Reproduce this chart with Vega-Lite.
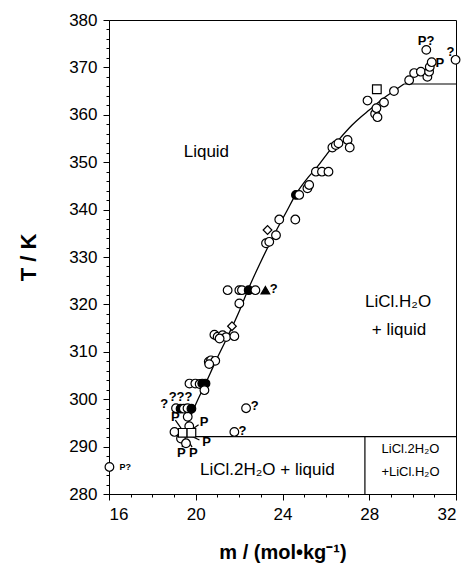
{
  "$schema": "https://vega.github.io/schema/vega-lite/v6.json",
  "width": 347,
  "height": 474,
  "autosize": {"type": "none"},
  "padding": {"left": 109, "top": 20, "right": 13, "bottom": 79},
  "background": "white",
  "config": {
    "view": {"stroke": "black", "strokeWidth": 1},
    "font": "Liberation Sans",
    "axis": {"domainColor": "black", "tickColor": "black", "labelColor": "black", "titleColor": "black", "grid": false, "labelFont": "Liberation Sans", "titleFont": "Liberation Sans"}
  },
  "encoding": {
    "x": {
      "field": "m", "type": "quantitative",
      "scale": {"domain": [16, 32], "nice": false, "zero": false},
      "axis": {
        "title": "m / (mol•kg⁻¹)",
        "titleFontSize": 20, "titleFontWeight": "bold", "titlePadding": 20,
        "format": "d",
        "values": [16,16.5,17,17.5,18,18.5,19,19.5,20,20.5,21,21.5,22,22.5,23,23.5,24,24.5,25,25.5,26,26.5,27,27.5,28,28.5,29,29.5,30,30.5,31,31.5,32],
        "labelExpr": "datum.value % 4 === 0 ? format(datum.value, 'd') : ''",
        "labelOverlap": false,
        "labelFontSize": 17, "labelPadding": 6,
        "tickSize": {"condition": {"test": "datum.value % 4 === 0", "value": 6}, "value": 3}
      }
    },
    "y": {
      "field": "T", "type": "quantitative",
      "scale": {"domain": [280, 380], "nice": false, "zero": false},
      "axis": {
        "title": "T / K",
        "titleFontSize": 22, "titleFontWeight": "bold", "titlePadding": 28,
        "format": "d",
        "values": [280,282,284,286,288,290,292,294,296,298,300,302,304,306,308,310,312,314,316,318,320,322,324,326,328,330,332,334,336,338,340,342,344,346,348,350,352,354,356,358,360,362,364,366,368,370,372,374,376,378,380],
        "labelExpr": "datum.value % 10 === 0 ? format(datum.value, 'd') : ''",
        "labelOverlap": false,
        "labelFontSize": 17, "labelPadding": 6,
        "tickSize": {"condition": {"test": "datum.value % 10 === 0", "value": 6}, "value": 3}
      }
    }
  },
  "layer": [
    {
      "data": {"values": [
        {"m": 19.4, "T": 292.1}, {"m": 19.95, "T": 298.4}, {"m": 20.45, "T": 303.3}, {"m": 20.95, "T": 308.3},
        {"m": 21.5, "T": 313.5}, {"m": 22.0, "T": 318.5}, {"m": 22.4, "T": 323.0}, {"m": 23.0, "T": 329.0},
        {"m": 23.6, "T": 334.6}, {"m": 24.2, "T": 339.7}, {"m": 24.6, "T": 343.1}, {"m": 25.2, "T": 346.9},
        {"m": 25.6, "T": 349.0}, {"m": 26.2, "T": 352.6}, {"m": 26.7, "T": 355.3}, {"m": 27.2, "T": 357.8},
        {"m": 27.6, "T": 359.5}, {"m": 28.0, "T": 361.0}, {"m": 28.6, "T": 363.3}, {"m": 29.1, "T": 364.9},
        {"m": 29.6, "T": 366.5}
      ]},
      "mark": {"type": "line", "color": "black", "strokeWidth": 1.3, "interpolate": "monotone"}
    },
    {
      "data": {"values": [
        {"m": 19.4, "T": 292.1, "m2": 32, "T2": 292.1},
        {"m": 29.6, "T": 366.5, "m2": 32, "T2": 366.5},
        {"m": 27.8, "T": 280, "m2": 27.8, "T2": 292.1},
        {"m": 19.06, "T": 295.6, "m2": 19.32, "T2": 293.9},
        {"m": 20.13, "T": 294.6, "m2": 19.67, "T2": 293.1},
        {"m": 20.17, "T": 291.4, "m2": 19.71, "T2": 292.4},
        {"m": 19.37, "T": 289.9, "m2": 19.48, "T2": 291.4},
        {"m": 19.83, "T": 289.9, "m2": 19.63, "T2": 291.4}
      ]},
      "mark": {"type": "rule", "color": "black", "strokeWidth": 1.2},
      "encoding": {"x2": {"field": "m2"}, "y2": {"field": "T2"}}
    },
    {
      "data": {"values": [
        {"m": 16.02, "T": 285.7, "kind": "open"},
        {"m": 19.02, "T": 293.1, "kind": "open"},
        {"m": 19.32, "T": 291.7, "kind": "open"},
        {"m": 19.55, "T": 290.7, "kind": "open"},
        {"m": 19.7, "T": 294.3, "kind": "open"},
        {"m": 19.63, "T": 296.3, "kind": "open"},
        {"m": 19.4, "T": 292.9, "kind": "square"},
        {"m": 19.8, "T": 292.9, "kind": "square"},
        {"m": 19.09, "T": 298.1, "kind": "open"},
        {"m": 19.3, "T": 298.0, "kind": "filled"},
        {"m": 19.45, "T": 298.0, "kind": "open"},
        {"m": 19.62, "T": 298.1, "kind": "open"},
        {"m": 19.8, "T": 298.0, "kind": "filled"},
        {"m": 19.71, "T": 303.3, "kind": "open"},
        {"m": 19.98, "T": 303.3, "kind": "open"},
        {"m": 20.18, "T": 303.2, "kind": "open"},
        {"m": 20.3, "T": 303.3, "kind": "filled"},
        {"m": 20.45, "T": 303.3, "kind": "filled"},
        {"m": 20.4, "T": 301.9, "kind": "open"},
        {"m": 20.6, "T": 307.9, "kind": "open"},
        {"m": 20.7, "T": 308.2, "kind": "open"},
        {"m": 20.9, "T": 308.1, "kind": "open"},
        {"m": 20.62, "T": 307.4, "kind": "open"},
        {"m": 20.86, "T": 313.6, "kind": "open"},
        {"m": 21.01, "T": 313.2, "kind": "open"},
        {"m": 21.24, "T": 313.5, "kind": "open"},
        {"m": 21.4, "T": 313.1, "kind": "open"},
        {"m": 21.78, "T": 313.3, "kind": "open"},
        {"m": 21.1, "T": 312.8, "kind": "open"},
        {"m": 21.67, "T": 315.4, "kind": "diamond"},
        {"m": 22.01, "T": 320.2, "kind": "open"},
        {"m": 21.47, "T": 323.0, "kind": "open"},
        {"m": 22.01, "T": 323.0, "kind": "open"},
        {"m": 22.13, "T": 323.0, "kind": "open"},
        {"m": 22.44, "T": 323.0, "kind": "filled"},
        {"m": 22.75, "T": 323.0, "kind": "open"},
        {"m": 23.21, "T": 323.0, "kind": "triangle"},
        {"m": 22.32, "T": 298.1, "kind": "open"},
        {"m": 21.78, "T": 293.1, "kind": "open"},
        {"m": 23.24, "T": 332.9, "kind": "open"},
        {"m": 23.39, "T": 333.2, "kind": "open"},
        {"m": 23.7, "T": 334.6, "kind": "open"},
        {"m": 23.31, "T": 335.7, "kind": "diamond"},
        {"m": 23.85, "T": 337.9, "kind": "open"},
        {"m": 24.59, "T": 337.9, "kind": "open"},
        {"m": 24.62, "T": 343.1, "kind": "filled"},
        {"m": 24.77, "T": 343.1, "kind": "open"},
        {"m": 25.15, "T": 344.5, "kind": "open"},
        {"m": 25.23, "T": 345.2, "kind": "open"},
        {"m": 25.54, "T": 348.0, "kind": "open"},
        {"m": 25.82, "T": 348.0, "kind": "open"},
        {"m": 26.12, "T": 348.0, "kind": "open"},
        {"m": 26.3, "T": 353.1, "kind": "open"},
        {"m": 26.46, "T": 353.6, "kind": "open"},
        {"m": 26.58, "T": 354.0, "kind": "open"},
        {"m": 27.0, "T": 354.7, "kind": "open"},
        {"m": 27.1, "T": 353.1, "kind": "open"},
        {"m": 27.92, "T": 363.0, "kind": "open"},
        {"m": 28.27, "T": 360.2, "kind": "open"},
        {"m": 28.38, "T": 359.5, "kind": "open"},
        {"m": 28.33, "T": 361.4, "kind": "open"},
        {"m": 28.68, "T": 362.6, "kind": "open"},
        {"m": 28.35, "T": 365.4, "kind": "square"},
        {"m": 29.14, "T": 365.0, "kind": "open"},
        {"m": 29.84, "T": 367.3, "kind": "open"},
        {"m": 30.07, "T": 368.8, "kind": "open"},
        {"m": 30.38, "T": 369.1, "kind": "open"},
        {"m": 30.68, "T": 368.0, "kind": "open"},
        {"m": 30.76, "T": 369.1, "kind": "open"},
        {"m": 30.79, "T": 370.1, "kind": "open"},
        {"m": 30.88, "T": 371.1, "kind": "open"},
        {"m": 30.63, "T": 373.7, "kind": "open"},
        {"m": 31.98, "T": 371.6, "kind": "open"}
      ]},
      "mark": {"type": "point", "filled": false, "stroke": "black", "strokeWidth": 1.2, "opacity": 1},
      "encoding": {
        "shape": {"field": "kind", "type": "nominal", "legend": null,
          "scale": {"domain": ["open", "filled", "square", "diamond", "triangle"], "range": ["circle", "circle", "square", "diamond", "triangle-up"]}},
        "fill": {"field": "kind", "type": "nominal", "legend": null,
          "scale": {"domain": ["open", "filled", "square", "diamond", "triangle"], "range": ["white", "black", "white", "white", "black"]}},
        "size": {"field": "kind", "type": "nominal", "legend": null,
          "scale": {"domain": ["open", "filled", "square", "diamond", "triangle"], "range": [75, 75, 45, 30, 40]}}
      }
    },
    {
      "data": {"values": [
        {"m": 19.06, "T": 296.2, "label": "P"},
        {"m": 20.38, "T": 295.2, "label": "P"},
        {"m": 20.5, "T": 291.0, "label": "P"},
        {"m": 19.34, "T": 288.7, "label": "P"},
        {"m": 19.89, "T": 288.7, "label": "P"},
        {"m": 18.55, "T": 298.9, "label": "?"},
        {"m": 19.3, "T": 300.5, "label": "???"},
        {"m": 23.6, "T": 323.2, "label": "?"},
        {"m": 22.72, "T": 298.6, "label": "?"},
        {"m": 22.15, "T": 293.2, "label": "?"},
        {"m": 30.62, "T": 375.6, "label": "P?"},
        {"m": 31.25, "T": 370.9, "label": "P"},
        {"m": 31.75, "T": 373.3, "label": "?"}
      ]},
      "mark": {"type": "text", "font": "Liberation Sans", "fontSize": 13, "fontWeight": "bold", "color": "black", "align": "center", "baseline": "middle"},
      "encoding": {"text": {"field": "label"}}
    },
    {
      "data": {"values": [
        {"m": 16.75, "T": 285.6, "label": "P?"}
      ]},
      "mark": {"type": "text", "font": "Liberation Sans", "fontSize": 9, "fontWeight": "bold", "color": "black", "align": "center", "baseline": "middle"},
      "encoding": {"text": {"field": "label"}}
    },
    {
      "data": {"values": [
        {"m": 20.49, "T": 352.2, "label": "Liquid"},
        {"m": 29.33, "T": 320.5, "label": "LiCl.H₂O"},
        {"m": 29.37, "T": 314.6, "label": "+ liquid"},
        {"m": 23.3, "T": 285.1, "label": "LiCl.2H₂O + liquid"}
      ]},
      "mark": {"type": "text", "font": "Liberation Sans", "fontSize": 17, "color": "black", "align": "center", "baseline": "middle"},
      "encoding": {"text": {"field": "label"}}
    },
    {
      "data": {"values": [
        {"m": 29.9, "T": 289.5, "label": "LiCl.2H₂O"},
        {"m": 29.9, "T": 284.6, "label": "+LiCl.H₂O"}
      ]},
      "mark": {"type": "text", "font": "Liberation Sans", "fontSize": 13, "color": "black", "align": "center", "baseline": "middle"},
      "encoding": {"text": {"field": "label"}}
    }
  ]
}
